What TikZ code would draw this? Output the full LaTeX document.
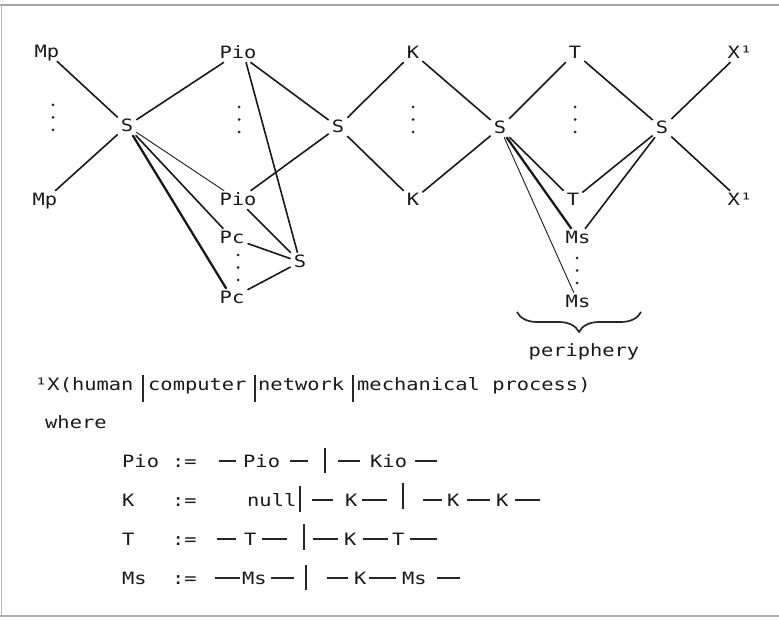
\documentclass[tikz,border=0pt]{standalone}
\usepackage{fontspec}
\setmainfont{DejaVu Sans Mono}[FakeStretch=1.2]
\usetikzlibrary{decorations.pathreplacing}
\begin{document}
\begin{tikzpicture}[x=1pt,y=-1pt,
  every node/.style={font=\fontsize{17}{20}\selectfont, text=black!90},
  lbl/.style={inner sep=3pt, text height=12pt, text depth=0pt},
  txt/.style={inner sep=0pt, anchor=base west},
  ln/.style={line width=1.6pt, black!90},
  thinln/.style={line width=0.9pt, black!90},
  heavyln/.style={line width=2.3pt, black!90},
  gdash/.style={line width=2.4pt, black!85},
  gbar/.style={line width=1.2pt, black!85},
  vdot/.style={fill=black!85}
]
\useasboundingbox (0,0) rectangle (779,620);
% frame
\draw[gray!70, line width=2pt] (0,5) -- (779,5);
\draw[gray!65, line width=2.5pt] (0,616) -- (779,616);
\draw[gray!55, line width=1pt] (1,5) -- (1,616);

% nodes
\node[lbl] (mp1) at (47,52) {Mp};
\node[lbl] (mp2) at (45,200) {Mp};
\node[lbl] (s1) at (127,126) {S};
\node[lbl] (pio1) at (238,53) {Pio};
\node[lbl] (pio2) at (238,200) {Pio};
\node[lbl] (pc1) at (232,238) {Pc};
\node[lbl] (pc2) at (232,298) {Pc};
\node[lbl] (s5) at (300,262) {S};
\node[lbl] (s2) at (338,127) {S};
\node[lbl] (k1) at (413,53) {K};
\node[lbl] (k2) at (413,200) {K};
\node[lbl] (s3) at (500,128) {S};
\node[lbl] (t1) at (575,53) {T};
\node[lbl] (t2) at (573,200) {T};
\node[lbl] (ms1) at (578,238) {Ms};
\node[lbl] (ms2) at (578,302) {Ms};
\node[lbl] (s4) at (662,128) {S};
\node[lbl] (x1) at (740,53) {X¹};
\node[lbl] (x2) at (740,200) {X¹};

% vertical dots
\foreach \x/\y in {53/105, 239/107, 238/255, 413/107, 575/107, 577/258}{
  \foreach \d in {0,12.5,25}{
    \fill[vdot] (\x,\y+\d) circle (1.5pt);
  }
}

% connectors
\draw[ln] (mp1) -- (s1);
\draw[ln] (mp2) -- (s1);
\draw[ln] (s1) -- (pio1);
\draw[thinln] (s1) -- (pio2);
\draw[ln] (s1) -- (pc1);
\draw[heavyln] (s1) -- (pc2);
\draw[ln] (pio1) -- (s2);
\draw[ln] (pio2) -- (s2);
\draw[ln] ([xshift=8pt]pio1.south) -- (s5);
\draw[ln] (pio2) -- (s5);
\draw[ln] (pc1) -- (s5);
\draw[ln] (pc2) -- (s5);
\draw[ln] (s2) -- (k1);
\draw[ln] (s2) -- (k2);
\draw[ln] (k1) -- (s3);
\draw[ln] (k2) -- (s3);
\draw[ln] (s3) -- (t1);
\draw[ln] (s3) -- (t2);
\draw[heavyln] (s3) -- (ms1);
\draw[thinln] (s3) -- (ms2);
\draw[ln] (t1) -- (s4);
\draw[ln] (t2) -- (s4);
\draw[ln] (ms1) -- (s4);
\draw[ln] (s4) -- (x1);
\draw[ln] (s4) -- (x2);

% brace
\draw[line width=1.7pt, black!85, decorate, decoration={brace, mirror, amplitude=20pt, aspect=0.5}] (517,312) -- (641,312);
\node[inner sep=0pt] (per) at (584,352) {periphery};

% footnote
\node[txt] (fn1) at (35,390) {¹X(human};
\draw[gbar] (143,375) -- (143,402);
\node[txt] (fn2) at (148,390) {computer};
\draw[gbar] (255,375) -- (255,402);
\node[txt] (fn3) at (258,390) {network};
\draw[gbar] (353,375) -- (353,402);
\node[txt] (fn4) at (357,390) {mechanical process)};
\node[txt] (wh) at (45,428) {where};

% Pio row
\node[txt] (r1a) at (122,467) {Pio};
\node[txt] (r1b) at (172,467) {:=};
\draw[gdash] (219,461) -- (236,461);
\node[txt] (r1c) at (243,467) {Pio};
\draw[gdash] (290,461) -- (308,461);
\draw[gbar] (325,448) -- (325,473);
\draw[gdash] (338,461) -- (360,461);
\node[txt] (r1d) at (370,467) {Kio};
\draw[gdash] (415,461) -- (437,461);

% K row
\node[txt] (r2a) at (122,506) {K};
\node[txt] (r2b) at (172,506) {:=};
\node[txt] (r2c) at (247,506) {null};
\draw[gbar] (300,486) -- (300,512);
\draw[gdash] (312,500) -- (333,500);
\node[txt] (r2d) at (345,506) {K};
\draw[gdash] (362,500) -- (387,500);
\draw[gbar] (403,483) -- (403,509);
\draw[gdash] (423,500) -- (442,500);
\node[txt] (r2e) at (447,506) {K};
\draw[gdash] (467,500) -- (490,500);
\node[txt] (r2f) at (496,506) {K};
\draw[gdash] (515,500) -- (540,500);

% T row
\node[txt] (r3a) at (122,545) {T};
\node[txt] (r3b) at (172,545) {:=};
\draw[gdash] (217,539) -- (236,539);
\node[txt] (r3c) at (244,545) {T};
\draw[gdash] (262,539) -- (287,539);
\draw[gbar] (304,524) -- (304,550);
\draw[gdash] (313,539) -- (338,539);
\node[txt] (r3d) at (344,545) {K};
\draw[gdash] (363,539) -- (388,539);
\node[txt] (r3e) at (392,545) {T};
\draw[gdash] (410,539) -- (437,539);

% Ms row
\node[txt] (r4a) at (122,584) {Ms};
\node[txt] (r4b) at (172,584) {:=};
\draw[gdash] (215,578) -- (240,578);
\node[txt] (r4c) at (242,584) {Ms};
\draw[gdash] (271,578) -- (294,578);
\draw[gbar] (306,565) -- (306,590);
\draw[gdash] (327,578) -- (348,578);
\node[txt] (r4d) at (354,584) {K};
\draw[gdash] (369,578) -- (396,578);
\node[txt] (r4e) at (402,584) {Ms};
\draw[gdash] (437,578) -- (460,578);
\end{tikzpicture}
\end{document}
